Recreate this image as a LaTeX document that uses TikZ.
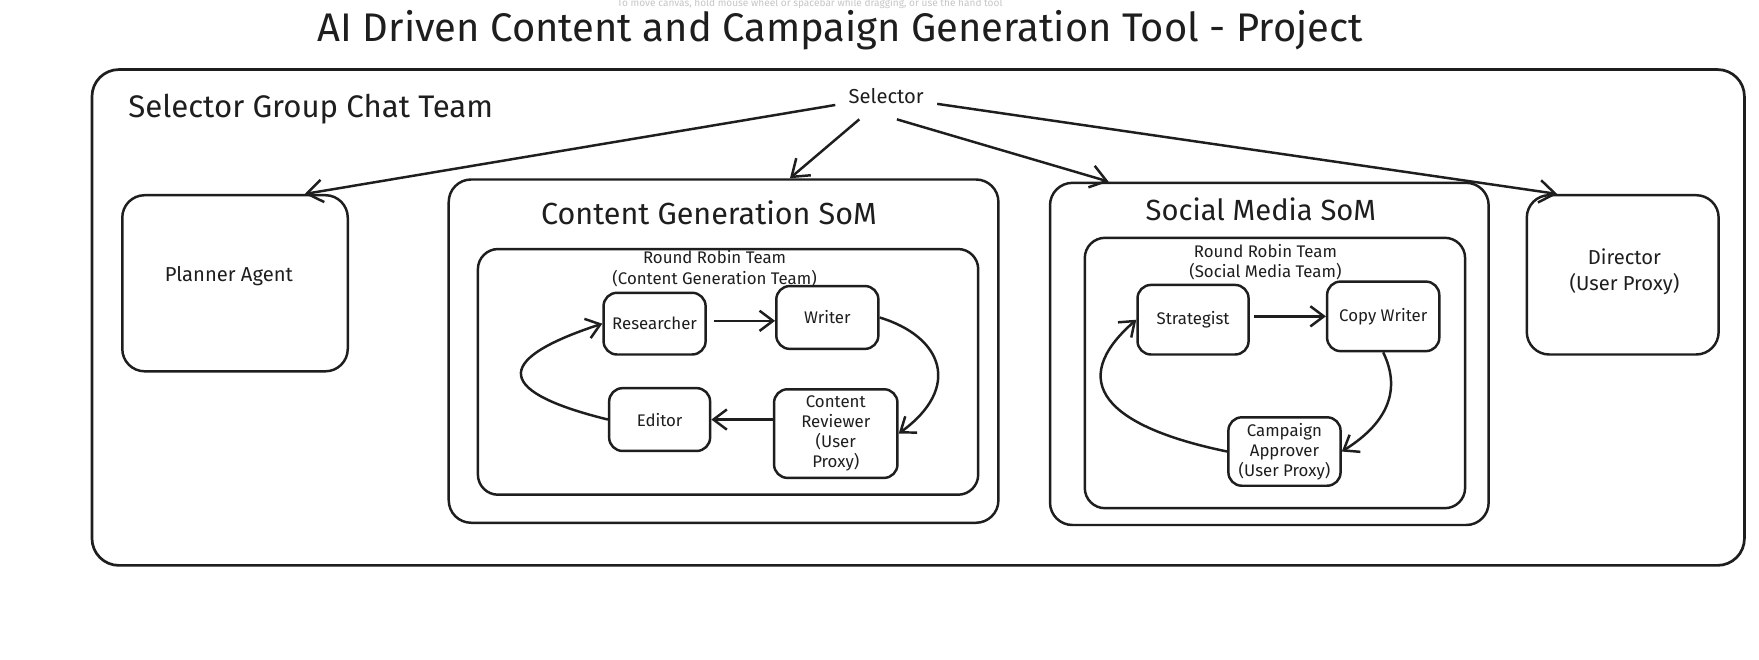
\documentclass[tikz,border=0pt]{standalone}
\usepackage{fontspec}
\setmainfont{Fira Sans}
\usetikzlibrary{arrows.meta,calc}
\definecolor{ink}{RGB}{30,30,30}
\begin{document}
\begin{tikzpicture}[x=0.5pt,y=-0.5pt,
  box/.style={draw=ink, line width=1.1pt, rounded corners=6pt, inner sep=0pt, text=ink, align=center},
  lbl/.style={text=ink, align=center, inner sep=1pt},
  fT/.style={font=\fontsize{17.8}{20}\selectfont},
  fH/.style={font=\fontsize{13.9}{16}\selectfont},
  fM/.style={font=\fontsize{9}{11.5}\selectfont},
  fS/.style={font=\fontsize{7.5}{9}\selectfont},
  arr/.style={draw=ink, line width=1.1pt, -{Straight Barb[length=7pt,width=10pt,line width=1.1pt]}},
  sarr/.style={draw=ink, line width=1.1pt, -{Straight Barb[length=6pt,width=9pt,line width=1.1pt]}}
]
\useasboundingbox (0,0) rectangle (1568,588);
\fill[white] (0,0) rectangle (1568,588);

% header
\node[lbl, text=gray!45, font=\fontsize{4.5}{5}\selectfont, inner sep=0pt] (hint) at (722,3.5) {To move canvas, hold mouse wheel or spacebar while dragging, or use the hand tool};
\node[lbl, fT] (title) at (749,27) {AI Driven Content and Campaign Generation Tool - Project};

% outer team
\node[box, line width=1.2pt, rounded corners=12pt, minimum width=736.5pt, minimum height=221pt] (outer) at (818.5,283) {};
\node[lbl, fH, anchor=west] (sgct) at (112,97) {Selector Group Chat Team};
\node[lbl, fM, minimum width=45pt, minimum height=20pt] (sel) at (790,86) {Selector};

% planner & director
\node[box, rounded corners=10pt, minimum width=100.5pt, minimum height=78.5pt] (planner) at (209.5,252.5) {};
\node[lbl, fM] (plannerlbl) at (204,246) {Planner Agent};
\node[box, rounded corners=10pt, minimum width=85.5pt, minimum height=71pt] (director) at (1446.5,245) {};
\node[lbl, fM] (directorlbl) at (1448,242) {Director\\(User Proxy)};

% content generation SoM
\node[box, rounded corners=10pt, minimum width=245pt, minimum height=153pt] (cgsom) at (645,313) {};
\node[lbl, fH, font=\fontsize{13.6}{16}\selectfont] (cgsomlbl) at (632,190) {Content Generation SoM};
\node[box, rounded corners=9pt, minimum width=223pt, minimum height=109.5pt] (cgrr) at (649,331.5) {};
\node[lbl, fS] (cgrrlbl) at (637,239.5) {Round Robin Team\\(Content Generation Team)};
\node[box, fS, minimum width=45.5pt, minimum height=27.5pt] (res) at (583.5,288.5) {Researcher};
\node[box, fS, minimum width=45.5pt, minimum height=28pt] (wri) at (737.5,283) {Writer};
\node[box, fS, minimum width=45pt, minimum height=28pt] (edi) at (588,374) {Editor};
\node[box, fS, minimum width=55pt, minimum height=39.5pt] (rev) at (745,386.5) {Content\\Reviewer\\(User\\Proxy)};

% social media SoM
\node[box, rounded corners=10pt, minimum width=195.5pt, minimum height=152.5pt] (smsom) at (1131.5,315.5) {};
\node[lbl, font=\fontsize{13}{15}\selectfont] (smsomlbl) at (1124,187) {Social Media SoM};
\node[box, rounded corners=9pt, minimum width=169.5pt, minimum height=120.5pt] (smrr) at (1136.5,332.5) {};
\node[lbl, fS] (smrrlbl) at (1128,233.5) {Round Robin Team\\(Social Media Team)};
\node[box, fS, minimum width=49.5pt, minimum height=31pt] (str) at (1063.5,285) {Strategist};
\node[box, fS, minimum width=50pt, minimum height=31pt] (cpw) at (1233,282) {Copy Writer};
\node[box, fS, minimum width=50pt, minimum height=30.5pt] (app) at (1145,402.5) {Campaign\\Approver\\(User Proxy)};

% selector arrows
\draw[arr] (sel) -- (planner.52);
\draw[arr] (sel) -- (cgsom.69);
\draw[arr] (sel.-65) -- (smsom.133.5);
\draw[arr] (sel) -- (director.129.5);

% content generation loop
\draw[sarr, shorten <=3pt] (res.east |- 0,286) -- (wri.west |- 0,286);
\draw[sarr] (wri.east) .. controls (840,300) and (858,345) .. (rev.east);
\draw[sarr] (rev.west |- edi.east) -- (edi.east);
\draw[sarr] (edi.west) .. controls (445,350) and (435,322) .. (res.west);

% social media loop
\draw[sarr, shorten <=2pt] (str.east |- cpw.west) -- (cpw.west);
\draw[sarr] (cpw.south) .. controls (1248,345) and (1240,375) .. (app.east);
\draw[sarr] (app.west) .. controls (985,380) and (950,340) .. (str.west);
\end{tikzpicture}
\end{document}
